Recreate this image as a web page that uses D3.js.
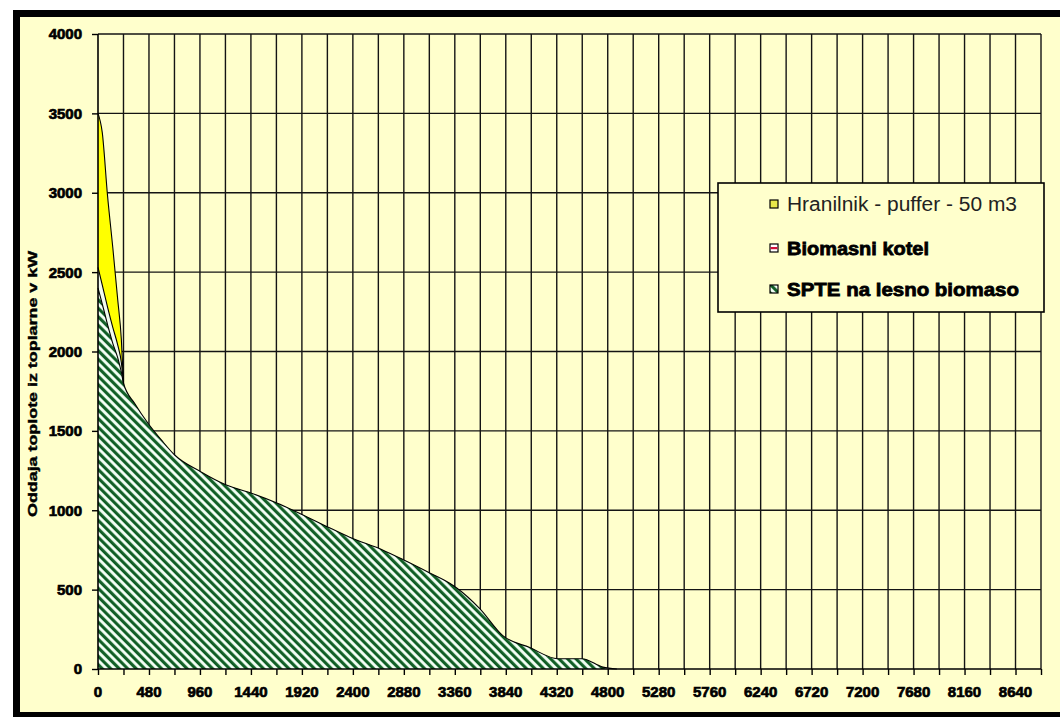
<!DOCTYPE html>
<html>
<head>
<meta charset="utf-8">
<script src="https://cdn.jsdelivr.net/npm/d3@7"></script>
<style>
  html, body { margin: 0; padding: 0; background: #ffffff; }
  svg { display: block; }
</style>
</head>
<body>
<svg id="chart" width="1060" height="717"></svg>
<script>
// ---------------- data ----------------
const hours = [0, 40, 90, 140, 186, 220, 240, 346, 471, 600, 722, 967, 1209, 1445, 1690, 1931, 2163, 2370, 2680, 2900, 3124, 3312, 3378, 3595, 3812, 4066, 4330, 4556, 4754, 4886];
const spte   = [2400, 2300, 2170, 2050, 1960, 1870, 1800, 1673, 1548, 1440, 1348, 1243, 1159, 1107, 1044, 970, 895, 830, 750, 680, 605, 540, 510, 380, 210, 135, 65, 65, 12, 0];
const kotel  = [130, 120, 110, 100, 80, 60, 0, 0, 0, 0, 0, 0, 0, 0, 0, 0, 0, 0, 0, 0, 0, 0, 0, 0, 0, 0, 0, 0, 0, 0];
const puffer = [970, 960, 700, 500, 284, 144, 0, 0, 0, 0, 0, 0, 0, 0, 0, 0, 0, 0, 0, 0, 0, 0, 0, 0, 0, 0, 0, 0, 0, 0];
const seriesNames = ["SPTE na lesno biomaso", "Biomasni kotel", "Hranilnik - puffer - 50 m3"];
const xTickLabels = [0, 480, 960, 1440, 1920, 2400, 2880, 3360, 3840, 4320, 4800, 5280, 5760, 6240, 6720, 7200, 7680, 8160, 8640];
const yTicks = [0, 500, 1000, 1500, 2000, 2500, 3000, 3500, 4000];
const yTitle = "Oddaja toplote iz toplarne v kW";

// ---------------- layout ----------------
const svg = d3.select("#chart");
const W = 1060, H = 717;
const plot = { left: 98, right: 1041, top: 34, bottom: 669 };
const bg = "#ffffcc";

const x = d3.scaleLinear().domain([0, 8880]).range([plot.left, plot.right]);
const y = d3.scaleLinear().domain([0, 4000]).range([plot.bottom, plot.top]);

// outer frame
svg.append("rect").attr("x", 0).attr("y", 0).attr("width", W).attr("height", H).attr("fill", "#ffffff");
svg.append("rect").attr("x", 13).attr("y", 10).attr("width", W + 20).attr("height", H + 20).attr("fill", "#000000");
svg.append("rect").attr("x", 20).attr("y", 17).attr("width", W + 20).attr("height", 695).attr("fill", bg);

// patterns
const defs = svg.append("defs");
const hatch = defs.append("pattern").attr("id", "hatch").attr("patternUnits", "userSpaceOnUse")
  .attr("width", 6).attr("height", 6).attr("patternTransform", "rotate(-45)");
hatch.append("rect").attr("width", 6).attr("height", 6).attr("fill", "#d8f4dc");
hatch.append("rect").attr("x", 3.9).attr("width", 1.3).attr("height", 6).attr("fill", "#ffffff");
hatch.append("rect").attr("x", 0).attr("width", 2.9).attr("height", 6).attr("fill", "#0f5c24");

// grid
const gGrid = svg.append("g");
const vTicks = d3.range(240, 8880 + 1, 240);
gGrid.selectAll("line.v").data(vTicks).join("line")
  .attr("x1", d => x(d)).attr("x2", d => x(d))
  .attr("y1", plot.top).attr("y2", plot.bottom)
  .attr("stroke", "#141414").attr("stroke-width", 1.4);
gGrid.selectAll("line.h").data(yTicks.filter(d => d > 0)).join("line")
  .attr("x1", plot.left).attr("x2", plot.right)
  .attr("y1", d => y(d)).attr("y2", d => y(d))
  .attr("stroke", "#141414").attr("stroke-width", 1.4);

// stacked areas
const rows = hours.map((h, i) => ({ h: h, spte: spte[i], kotel: kotel[i], puffer: puffer[i] }));
const stack = d3.stack().keys(["spte", "kotel", "puffer"]);
const layers = stack(rows);
const area = d3.area().x(d => x(d.data.h)).y0(d => y(d[0])).y1(d => y(d[1])).curve(d3.curveMonotoneX);
const line = d3.line().x(d => x(d.data.h)).y(d => y(d[1])).curve(d3.curveMonotoneX);
const fills = { spte: "url(#hatch)", kotel: "#f2fbee", puffer: "#ffff00" };
const gArea = svg.append("g");
layers.forEach(layer => {
  gArea.append("path").datum(layer).attr("d", area).attr("fill", fills[layer.key]).attr("stroke", "none");
});
layers.forEach(layer => {
  const pts = layer.key === "spte" ? layer : layer.filter(d => d.data.h <= 240);
  gArea.append("path").datum(pts).attr("d", line).attr("fill", "none")
    .attr("stroke", "#000").attr("stroke-width", 1.1);
});

// axes
const axisCol = "#000";
svg.append("line").attr("x1", plot.left).attr("x2", plot.right).attr("y1", plot.bottom).attr("y2", plot.bottom)
  .attr("stroke", axisCol).attr("stroke-width", 1.6);
svg.append("line").attr("x1", plot.left).attr("x2", plot.left).attr("y1", plot.top).attr("y2", plot.bottom)
  .attr("stroke", axisCol).attr("stroke-width", 1.6);

const xAxis = d3.axisBottom(x).tickValues(d3.range(0, 8880 + 1, 240)).tickSize(6).tickFormat("");
const gx = svg.append("g").attr("transform", `translate(0,${plot.bottom})`).call(xAxis);
gx.select(".domain").remove();
gx.selectAll(".tick line").attr("stroke", "#000").attr("stroke-width", 1.4);

const yAxis = d3.axisLeft(y).tickValues(yTicks).tickSize(6).tickFormat("");
const gy = svg.append("g").attr("transform", `translate(${plot.left},0)`).call(yAxis);
gy.select(".domain").remove();
gy.selectAll(".tick line").attr("stroke", "#000").attr("stroke-width", 1.4);

const labFont = "'Liberation Sans', Arial, sans-serif";
svg.append("g").selectAll("text").data(yTicks).join("text")
  .attr("x", 82).attr("y", d => y(d)).attr("dy", "0.36em")
  .attr("text-anchor", "end").attr("font-family", labFont).attr("font-weight", "bold")
  .attr("font-size", 15).attr("fill", "#000").attr("stroke", "#000").attr("stroke-width", 0.7)
  .text(d => d);

svg.append("g").selectAll("text").data(xTickLabels).join("text")
  .attr("x", d => x(d)).attr("y", 692).attr("dy", "0.36em")
  .attr("text-anchor", "middle").attr("font-family", labFont).attr("font-weight", "bold")
  .attr("font-size", 15).attr("fill", "#000").attr("stroke", "#000").attr("stroke-width", 0.7)
  .text(d => d);

// y title
svg.append("text")
  .attr("transform", "translate(32,384) rotate(-90)")
  .attr("text-anchor", "middle").attr("dy", "0.36em")
  .attr("font-family", labFont).attr("font-weight", "bold").attr("font-size", 13)
  .attr("textLength", 266).attr("lengthAdjust", "spacingAndGlyphs")
  .attr("fill", "#000").attr("stroke", "#000").attr("stroke-width", 0.4)
  .text(yTitle);

// legend
const lg = svg.append("g");
lg.append("rect").attr("x", 718).attr("y", 183).attr("width", 326).attr("height", 129)
  .attr("fill", bg).attr("stroke", "#000").attr("stroke-width", 1.6);
const legendItems = [
  { name: seriesNames[2], y: 204, bold: false, len: 230 },
  { name: seriesNames[1], y: 248, bold: true, len: 142 },
  { name: seriesNames[0], y: 289, bold: true, len: 232 }
];
// markers
lg.append("rect").attr("x", 770).attr("y", 200).attr("width", 8).attr("height", 8)
  .attr("fill", "#e8e84a").attr("stroke", "#000").attr("stroke-width", 1.2);
lg.append("rect").attr("x", 770).attr("y", 244).attr("width", 8).attr("height", 8)
  .attr("fill", "#ffffff").attr("stroke", "#000").attr("stroke-width", 1.2);
lg.append("rect").attr("x", 770.6).attr("y", 247).attr("width", 6.8).attr("height", 2.2).attr("fill", "#d0103a");
lg.append("rect").attr("x", 770).attr("y", 285).attr("width", 8).attr("height", 8)
  .attr("fill", "url(#hatch)").attr("stroke", "#000").attr("stroke-width", 1.2);
lg.selectAll("text.lt").data(legendItems).join("text")
  .attr("x", 787).attr("y", d => d.y).attr("dy", "0.36em")
  .attr("font-family", labFont).attr("font-weight", d => d.bold ? "bold" : "normal")
  .attr("font-size", d => d.bold ? 19 : 20)
  .attr("textLength", d => d.len).attr("lengthAdjust", "spacingAndGlyphs")
  .attr("fill", d => d.bold ? "#000" : "#222")
  .attr("stroke", d => d.bold ? "#000" : "none").attr("stroke-width", 0.8)
  .text(d => d.name);
</script>
</body>
</html>
